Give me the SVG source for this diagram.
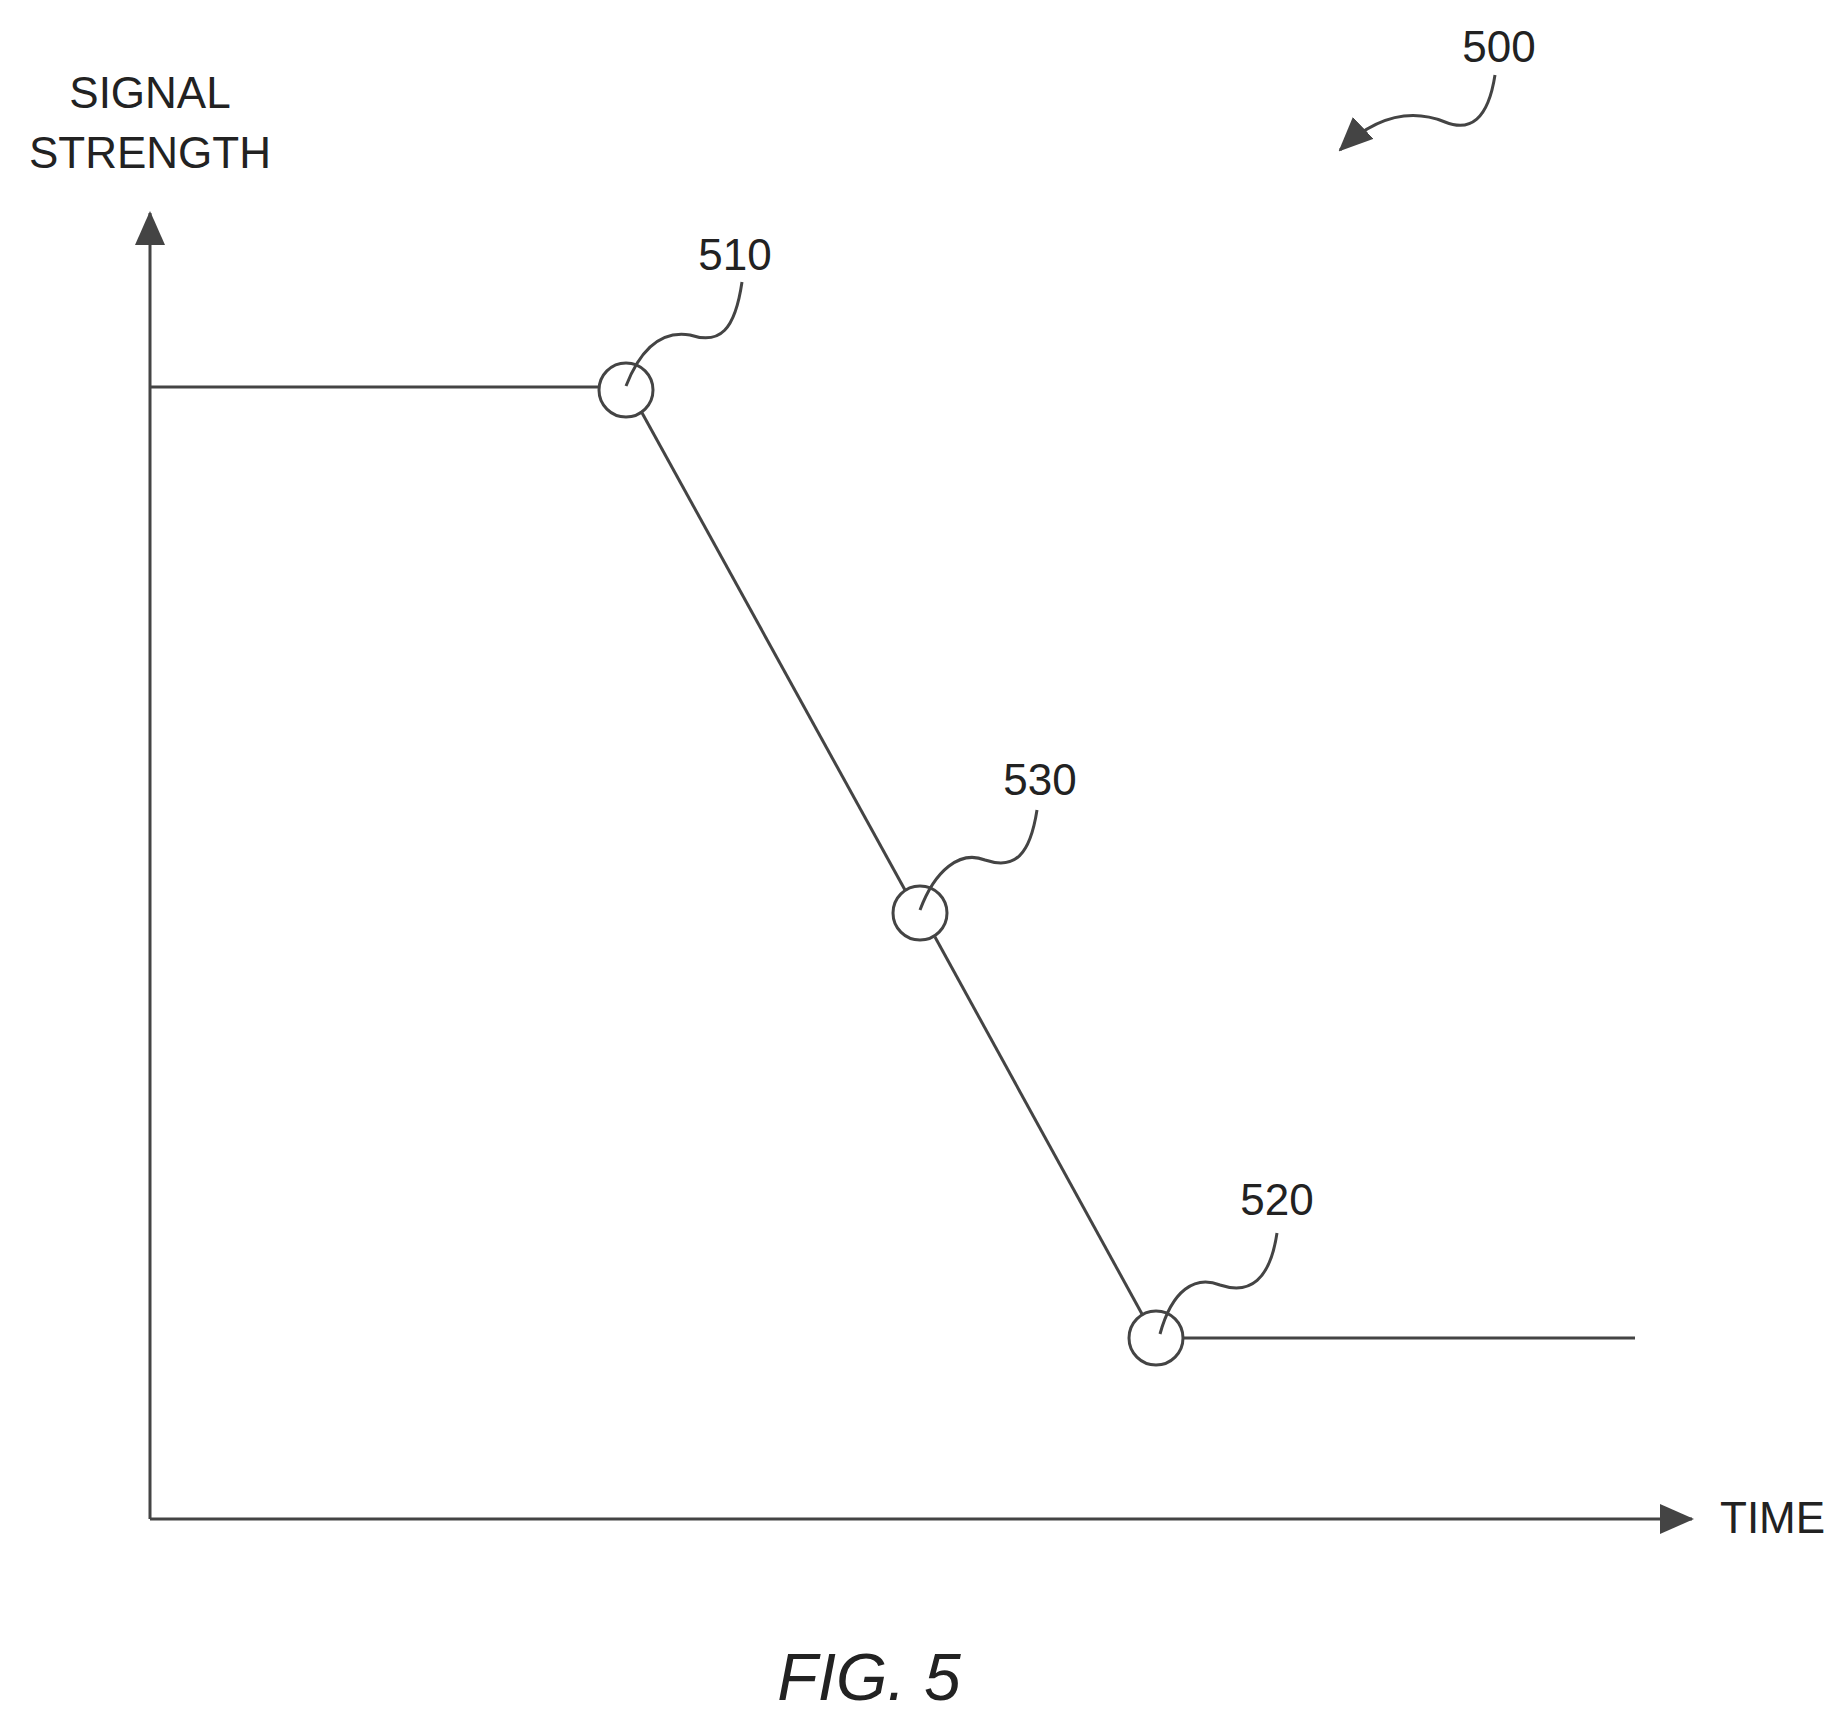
<svg xmlns="http://www.w3.org/2000/svg" width="1844" height="1719" viewBox="0 0 1844 1719">
<style>
.t{font-family:"Liberation Sans",Arial,sans-serif;font-size:44px;fill:#222}
.l{fill:none;stroke:#444;stroke-width:3}
</style>
<defs>
<marker id="a" markerWidth="10" markerHeight="10" refX="9" refY="5" orient="auto" markerUnits="userSpaceOnUse" viewBox="0 0 10 10"><path d="M0,0L10,5L0,10z" fill="#444"/></marker>
<marker id="b" markerWidth="34" markerHeight="30" refX="32" refY="15" orient="auto" markerUnits="userSpaceOnUse"><path d="M0,0L34,15L0,30z" fill="#444"/></marker>
</defs>
<rect width="1844" height="1719" fill="#fff"/>
<g id="axes">
<line class="l" x1="150" y1="1519" x2="150" y2="213" marker-end="url(#b)"/>
<line class="l" x1="150" y1="1519" x2="1692" y2="1519" marker-end="url(#b)"/>
<text class="t" x="150" y="108" text-anchor="middle">SIGNAL</text>
<text class="t" x="150" y="168" text-anchor="middle">STRENGTH</text>
<text class="t" x="1720" y="1533">TIME</text>
</g>
<g id="connectors">
<polyline class="l" points="150,387 599,387"/>
<line class="l" x1="641" y1="411" x2="905" y2="890"/>
<line class="l" x1="935" y1="937" x2="1142" y2="1314"/>
<line class="l" x1="1183" y1="1338" x2="1635" y2="1338"/>
<path class="l" d="M626,386 C640,350 660,330 690,335 C720,345 735,330 742,282"/>
<path class="l" d="M920,910 C935,870 960,850 985,860 C1015,870 1030,855 1037,810"/>
<path class="l" d="M1160,1334 C1172,1290 1195,1275 1220,1285 C1250,1295 1270,1280 1277,1233"/>
<path class="l" d="M1495,75 C1488,120 1470,132 1445,122 C1415,110 1380,112 1340,150" marker-end="url(#b)"/>
</g>
<g id="n510"><circle class="l" cx="626" cy="390" r="27"/><text class="t" x="735" y="270" text-anchor="middle">510</text></g>
<g id="n530"><circle class="l" cx="920" cy="913" r="27"/><text class="t" x="1040" y="795" text-anchor="middle">530</text></g>
<g id="n520"><circle class="l" cx="1156" cy="1338" r="27"/><text class="t" x="1277" y="1215" text-anchor="middle">520</text></g>
<g id="n500"><text class="t" x="1499" y="62" text-anchor="middle">500</text></g>
<text x="869" y="1700" text-anchor="middle" font-family="Liberation Sans,Arial,sans-serif" font-style="italic" font-size="66" fill="#222">FIG. 5</text>
</svg>
